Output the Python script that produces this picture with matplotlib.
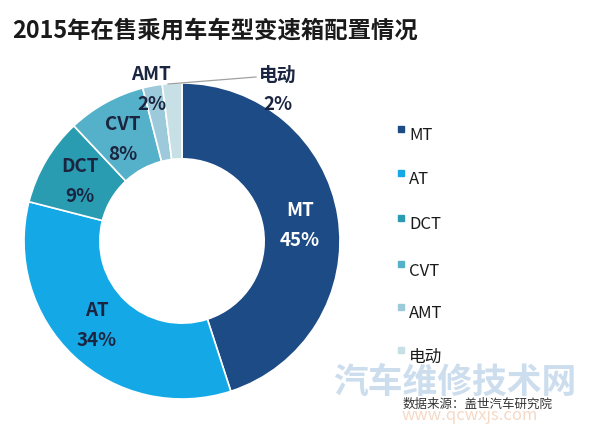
import numpy as np
import matplotlib
matplotlib.use("Agg")
import matplotlib.pyplot as plt
from matplotlib.patches import Rectangle

plt.rcParams['font.family'] = ['Noto Sans CJK SC', 'DejaVu Sans']

# ── data ─────────────────────────────────────────────
categories = ["MT", "AT", "DCT", "CVT", "AMT", "电动"]
shares = [45, 34, 9, 8, 2, 2]
colors = ["#1d4b86", "#14a9e6", "#2a9cb2", "#55b1c9", "#9ccadb", "#c6e0e6"]
title = "2015年在售乘用车车型变速箱配置情况"
source = "数据来源：盖世汽车研究院"

W, H = 600, 426
fig = plt.figure(figsize=(W / 100, H / 100), dpi=100)
fig.patch.set_facecolor("white")

# donut: centre (182, 241) px, radius 158 px
cx, cy, R = 182, 241, 158
ax = fig.add_axes([(cx - R) / W, (H - cy - R) / H, 2 * R / W, 2 * R / H])
ax.pie(shares, colors=colors, startangle=90, counterclock=False,
       radius=1.0, wedgeprops=dict(width=0.48, edgecolor="white", linewidth=1.2))
ax.set_xlim(-1, 1)
ax.set_ylim(-1, 1)
ax.set_aspect("equal")
ax.axis("off")


def px(x, y):
    return (x - cx) / R, (cy - y) / R


dark = "#1b2540"
# label positions (px) and text colours
lab_pos = {
    "MT": ((300, 211), (300, 241), "white"),
    "AT": ((97, 311), (97, 340), dark),
    "DCT": ((80, 166), (80, 197), dark),
    "CVT": ((123, 125), (123, 155), dark),
    "AMT": ((151, 74), (152, 105), dark),
    "电动": ((278, 75), (278, 104), dark),
}
for cat, val in zip(categories, shares):
    (lx, ly), (vx, vy), c = lab_pos[cat]
    ax.text(*px(lx, ly), cat, ha="center", va="center", color=c,
            fontsize=13.5, fontweight="bold", clip_on=False)
    ax.text(*px(vx, vy), f"{val}%", ha="center", va="center", color=c,
            fontsize=13.5, fontweight="bold", clip_on=False)

# leader line to 电动
ax.plot(*zip(px(168, 84), px(256, 77)), color="#a0a0a0", lw=0.9, clip_on=False)

# title
fig.text(12 / W, 1 - 31 / H, title, fontsize=16.8, fontweight="bold",
         color="#1a1a1a", ha="left", va="center")

# legend
leg_y = [136, 180, 225, 271, 314, 357]
for cat, c, y in zip(categories, colors, leg_y):
    fig.patches.append(Rectangle((398 / W, 1 - (y - 4) / H), 6 / W, 6 / H,
                                 transform=fig.transFigure, color=c))
    fig.text(409 / W, 1 - y / H, cat, fontsize=12, color="#1a1a1a",
             ha="left", va="center")

# watermark + source
fig.text(455 / W, 1 - 382 / H, "汽车维修技术网", fontsize=25, fontweight="bold",
         color="#6f9fd0", alpha=0.35, ha="center", va="center")
fig.text(478 / W, 1 - 404 / H, source, fontsize=9, color="#333333",
         ha="center", va="center")
fig.text(470 / W, 1 - 415 / H, "www.qcwxjs.com", fontsize=12,
         color="#e8a070", alpha=0.4, ha="center", va="center")

plt.savefig("out.png", dpi=100)
plt.close()
